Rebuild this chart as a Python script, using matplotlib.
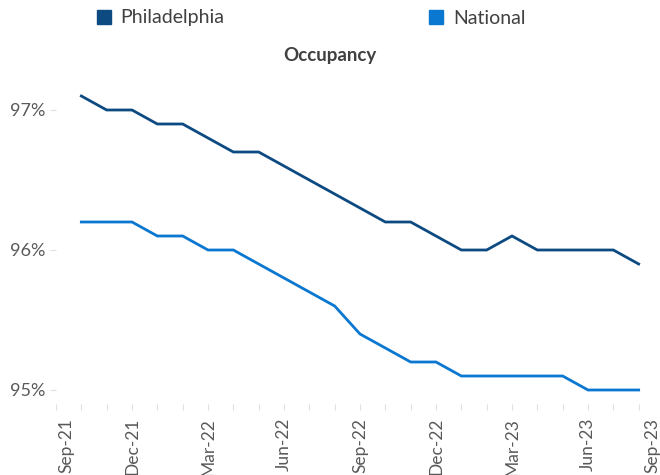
import matplotlib
matplotlib.use("Agg")
import matplotlib.pyplot as plt
from matplotlib.lines import Line2D
import matplotlib.transforms as mtransforms

months = ["Oct-21", "Nov-21", "Dec-21", "Jan-22", "Feb-22", "Mar-22", "Apr-22", "May-22",
          "Jun-22", "Jul-22", "Aug-22", "Sep-22", "Oct-22", "Nov-22", "Dec-22", "Jan-23",
          "Feb-23", "Mar-23", "Apr-23", "May-23", "Jun-23", "Jul-23", "Aug-23"]
philadelphia = [97.1, 97.0, 97.0, 96.9, 96.9, 96.8, 96.7, 96.7, 96.6, 96.5, 96.4, 96.3,
                96.2, 96.2, 96.1, 96.0, 96.0, 96.1, 96.0, 96.0, 96.0, 96.0, 95.9]
national = [96.2, 96.2, 96.2, 96.1, 96.1, 96.0, 96.0, 95.9, 95.8, 95.7, 95.6, 95.4,
            95.3, 95.2, 95.2, 95.1, 95.1, 95.1, 95.1, 95.1, 95.0, 95.0, 95.0]
tick_labels = ["Sep-21", "Dec-21", "Mar-22", "Jun-22", "Sep-22", "Dec-22", "Mar-23", "Jun-23", "Sep-23"]
y_ticks = [95, 96, 97]

plt.rcParams['font.family'] = ['Lato', 'DejaVu Sans']

c_phl = '#0D4A82'
c_nat = '#0A77D0'
gray = '#595959'

W, H = 660, 475
fig = plt.figure(figsize=(6.6, 4.75), dpi=100)
ax = fig.add_axes([56 / W, (H - 404) / H, (664 - 56) / W, (404 - 75) / H])

x = list(range(1, len(months) + 1))
ax.plot(x, philadelphia, color=c_phl, lw=2.0, solid_joinstyle='miter')
ax.plot(x, national, color=c_nat, lw=2.0, solid_joinstyle='miter')

ax.set_xlim(0, 24)
ax.set_ylim(94.9, 97.25)
for s in ax.spines.values():
    s.set_visible(False)

ax.set_yticks(y_ticks)
ax.set_yticklabels([f"{v}%" for v in y_ticks])
ax.tick_params(axis='y', length=4, width=0.8, color='#E0E0E0', pad=4,
               labelsize=13, labelcolor=gray)

ax.set_xticks(list(range(0, 25, 3)))
ax.set_xticks(list(range(0, 25)), minor=True)
ax.set_xticklabels(tick_labels, rotation=90, ha='center', va='top')
ax.tick_params(axis='x', which='both', length=4, width=0.8, color='#E0E0E0',
               pad=6, labelsize=12.5, labelcolor=gray)

labels = ax.get_xticklabels()
labels[0].set_transform(labels[0].get_transform() +
                        mtransforms.ScaledTranslation(10 / 100, 0, fig.dpi_scale_trans))
labels[-1].set_transform(labels[-1].get_transform() +
                         mtransforms.ScaledTranslation(-12 / 100, 0, fig.dpi_scale_trans))

fig.text(330 / W, 1 - 55 / H, "Occupancy", ha='center', va='center',
         fontsize=13.5, fontweight='bold', color='#404040')

h1 = Line2D([], [], marker='s', linestyle='none', markersize=10.5, color=c_phl)
h2 = Line2D([], [], marker='s', linestyle='none', markersize=10.5, color=c_nat)
fig.legend([h1, h2], ["Philadelphia", "National"], ncol=2, loc='center left',
           bbox_to_anchor=(96 / W, 1 - 18 / H), frameon=False, fontsize=14,
           labelcolor='#404040', handlelength=0.8, handletextpad=0.45,
           columnspacing=10.5, borderaxespad=0, borderpad=0)

fig.savefig("out.png", dpi=100)
